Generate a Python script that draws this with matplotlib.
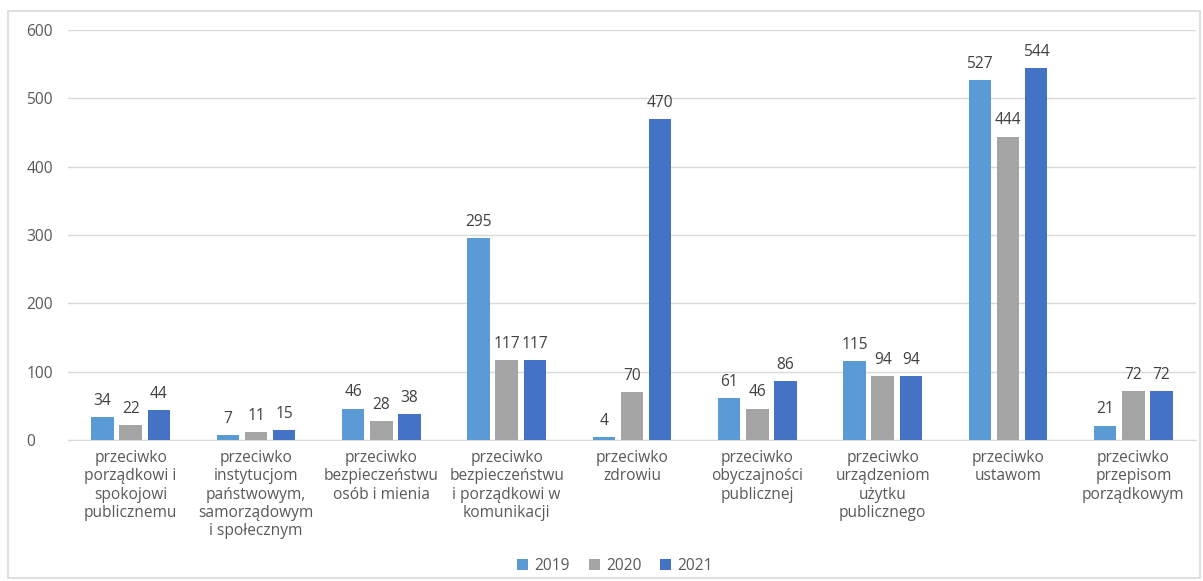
import matplotlib
matplotlib.use("Agg")
import matplotlib.pyplot as plt
import numpy as np
from matplotlib.patches import Rectangle

categories = [
    "przeciwko\nporządkowi i\nspokojowi\npublicznemu",
    "przeciwko\ninstytucjom\npaństwowym,\nsamorządowym\ni społecznym",
    "przeciwko\nbezpieczeństwu\nosób i mienia",
    "przeciwko\nbezpieczeństwu\ni porządkowi w\nkomunikacji",
    "przeciwko\nzdrowiu",
    "przeciwko\nobyczajności\npublicznej",
    "przeciwko\nurządzeniom\nużytku\npublicznego",
    "przeciwko\nustawom",
    "przeciwko\nprzepisom\nporządkowym",
]
series_names = ["2019", "2020", "2021"]
v2019 = [34, 7, 46, 295, 4, 61, 115, 527, 21]
v2020 = [22, 11, 28, 117, 70, 46, 94, 444, 72]
v2021 = [44, 15, 38, 117, 470, 86, 94, 544, 72]
yticks = [0, 100, 200, 300, 400, 500, 600]

colors = ["#5B9BD5", "#A5A5A5", "#4472C4"]
plt.rcParams['font.family'] = ['Open Sans', 'DejaVu Sans']
FS = 11.2

fig = plt.figure(figsize=(12.03, 5.81), dpi=100)
fig.patches.append(Rectangle((8/1203, 3/581), 1192/1203, 567/581, transform=fig.transFigure,
                             fill=False, edgecolor="#D9D9D9", linewidth=1.2))
ax = fig.add_axes([68/1203, 1 - 440/581, 1128/1203, 410/581])

x = np.arange(len(categories))
w = 0.18
off = 0.225
for i, (vals, name) in enumerate(zip([v2019, v2020, v2021], series_names)):
    pos = x + (i - 1) * off
    bars = ax.bar(pos, vals, width=w, color=colors[i], label=name, zorder=3)
    for b, v in zip(bars, vals):
        ax.text(b.get_x() + b.get_width() / 2, v + 12, str(v), ha="center", va="bottom",
                fontsize=FS, color="#404040")

ax.set_xlim(-0.5, len(categories) - 0.5)
ax.set_ylim(0, 600)
ax.set_yticks(yticks)
ax.yaxis.grid(True, color="#D9D9D9", linewidth=1, zorder=0)
for s in ["top", "right", "left"]:
    ax.spines[s].set_visible(False)
ax.spines["bottom"].set_color("#D9D9D9")
ax.tick_params(axis="both", length=0, labelcolor="#595959", labelsize=FS)
ax.set_xticks(x)
ax.set_xticklabels(categories, linespacing=1.2)
ax.tick_params(axis="x", pad=7)
for lbl in ax.get_yticklabels():
    lbl.set_horizontalalignment("left")
ax.tick_params(axis="y", pad=30)

leg = fig.legend(loc="center", bbox_to_anchor=(615/1203, 1 - 566/581), ncol=3, frameon=False,
                 fontsize=FS, handlelength=0.7, handleheight=0.7, handletextpad=0.4,
                 columnspacing=1.2, labelcolor="#595959")

fig.savefig("out.png", dpi=100)
